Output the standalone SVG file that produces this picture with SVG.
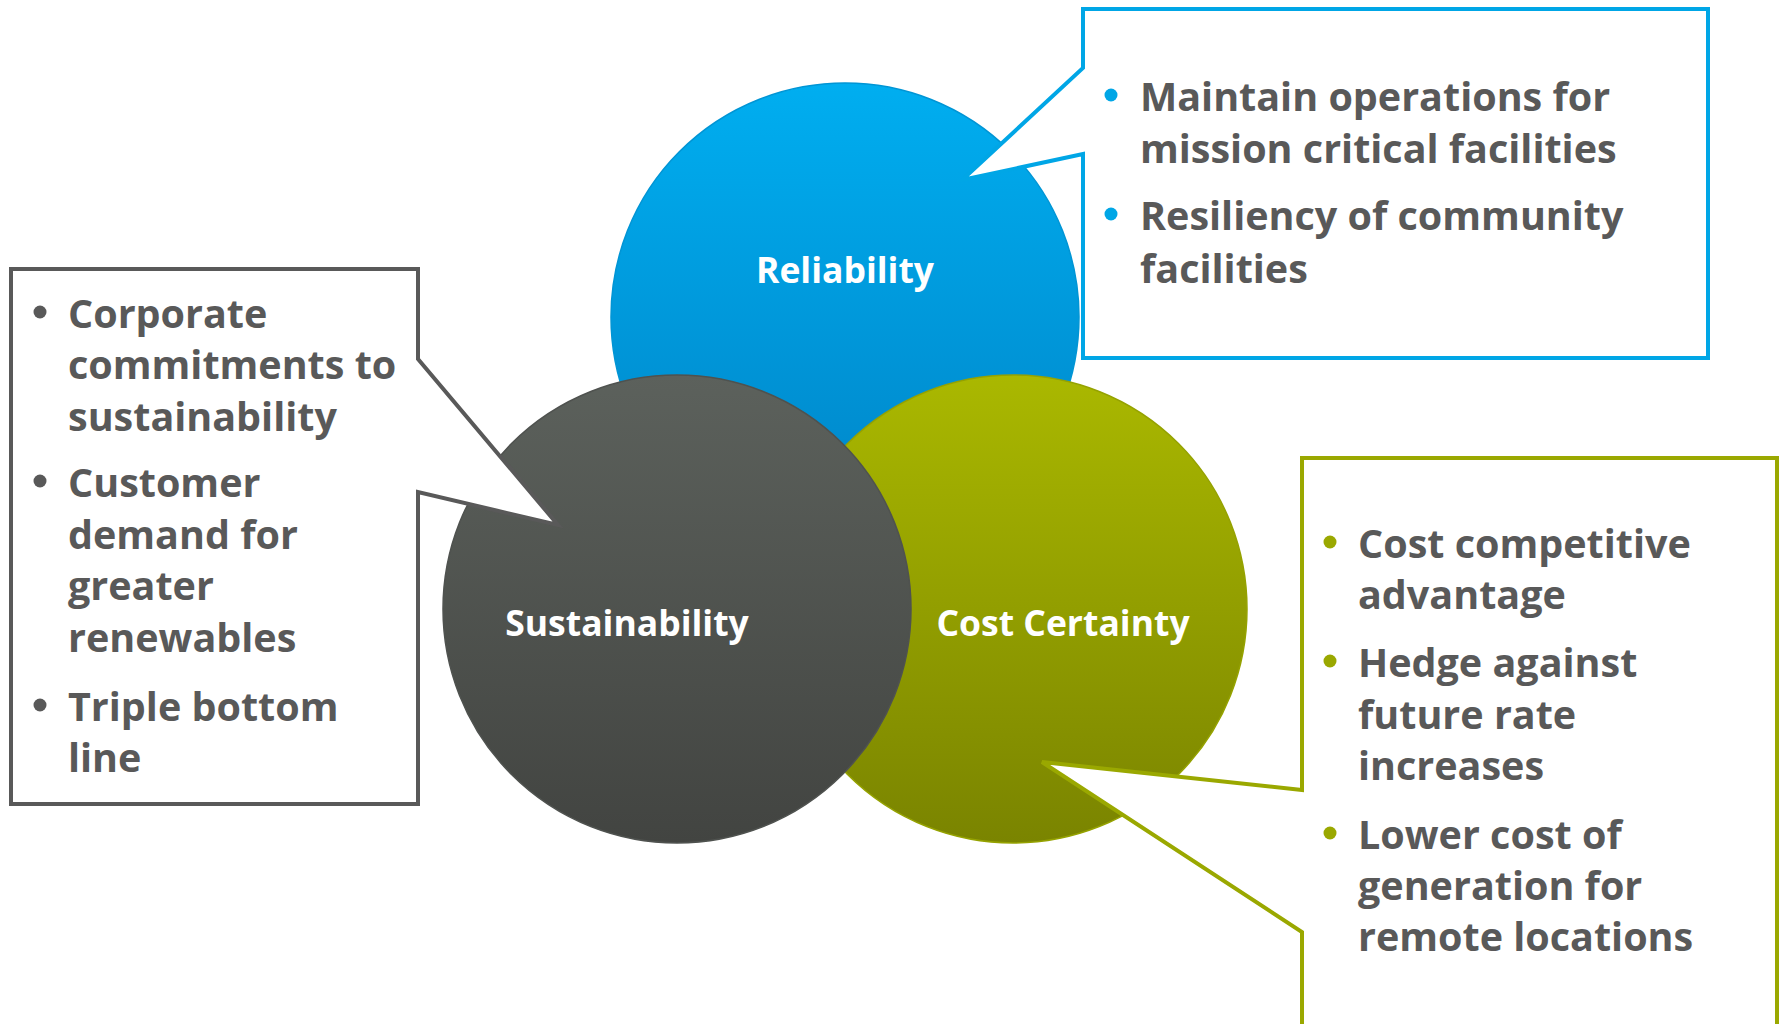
<svg xmlns="http://www.w3.org/2000/svg" width="1781" height="1024" viewBox="0 0 1781 1024">
<defs>
<linearGradient id="gBlue" x1="0" y1="0" x2="0" y2="1"><stop offset="0" stop-color="#00AEF0"/><stop offset="1" stop-color="#0083C6"/></linearGradient>
<linearGradient id="gGray" x1="0" y1="0" x2="0" y2="1"><stop offset="0" stop-color="#5C615C"/><stop offset="1" stop-color="#424441"/></linearGradient>
<linearGradient id="gGreen" x1="0" y1="0" x2="0" y2="1"><stop offset="0" stop-color="#AAB800"/><stop offset="1" stop-color="#7A8400"/></linearGradient>
</defs>
<style>
.lbl{font-family:"Open Sans","Liberation Sans",sans-serif;font-weight:700;font-size:35.5px;fill:#FFFFFF;text-anchor:middle}
.txt{font-family:"Open Sans","Liberation Sans",sans-serif;font-weight:700;font-size:39.5px;fill:#595959}
.call{fill:#FFFFFF;stroke-width:4;stroke-linejoin:miter}
</style>
<g id="reliability">
<circle cx="845" cy="317" r="234" fill="url(#gBlue)" stroke="#0095D5" stroke-width="1.5"/>
<text class="lbl" x="845" y="283">Reliability</text>
</g>
<g id="cost-certainty">
<circle cx="1013" cy="609" r="234" fill="url(#gGreen)" stroke="#95A200" stroke-width="1.5"/>
<text class="lbl" x="1063" y="636">Cost Certainty</text>
</g>
<g id="sustainability">
<circle cx="677" cy="609" r="234" fill="url(#gGray)" stroke="#4F524F" stroke-width="1.5"/>
<text class="lbl" x="627" y="636">Sustainability</text>
</g>
<g id="connectors">
<path id="callout-reliability" class="call" stroke="#00A6E6" d="M1083,9 H1708 V358 H1083 V154 L962,180 L1083,68 Z"/>
<path id="callout-sustainability" class="call" stroke="#595959" d="M11,269 H418 V359 L558,525 L418,492 V804 H11 Z"/>
<path id="callout-cost" class="call" stroke="#9AA800" d="M1302,458 H1777 V1040 H1302 V932 L1042,762 L1302,790 Z"/>
</g>
<g id="reliability-text">
<circle cx="1111" cy="95" r="6.5" fill="#00A6E6"/>
<circle cx="1111" cy="214" r="6.5" fill="#00A6E6"/>
<text class="txt" x="1140" y="111">Maintain operations for</text>
<text class="txt" x="1140" y="163">mission critical facilities</text>
<text class="txt" x="1140" y="230">Resiliency of community</text>
<text class="txt" x="1140" y="283">facilities</text>
</g>
<g id="sustainability-text">
<circle cx="40" cy="312" r="6.5" fill="#595959"/>
<circle cx="40" cy="481" r="6.5" fill="#595959"/>
<circle cx="40" cy="705" r="6.5" fill="#595959"/>
<text class="txt" x="68" y="328">Corporate</text>
<text class="txt" x="68" y="379">commitments to</text>
<text class="txt" x="68" y="431">sustainability</text>
<text class="txt" x="68" y="497">Customer</text>
<text class="txt" x="68" y="549">demand for</text>
<text class="txt" x="68" y="600">greater</text>
<text class="txt" x="68" y="652">renewables</text>
<text class="txt" x="68" y="721">Triple bottom</text>
<text class="txt" x="68" y="772">line</text>
</g>
<g id="cost-text">
<circle cx="1330" cy="542" r="6.5" fill="#9AA800"/>
<circle cx="1330" cy="661" r="6.5" fill="#9AA800"/>
<circle cx="1330" cy="833" r="6.5" fill="#9AA800"/>
<text class="txt" x="1358" y="558">Cost competitive</text>
<text class="txt" x="1358" y="609">advantage</text>
<text class="txt" x="1358" y="677">Hedge against</text>
<text class="txt" x="1358" y="729">future rate</text>
<text class="txt" x="1358" y="780">increases</text>
<text class="txt" x="1358" y="849">Lower cost of</text>
<text class="txt" x="1358" y="900">generation for</text>
<text class="txt" x="1358" y="951">remote locations</text>
</g>
</svg>
